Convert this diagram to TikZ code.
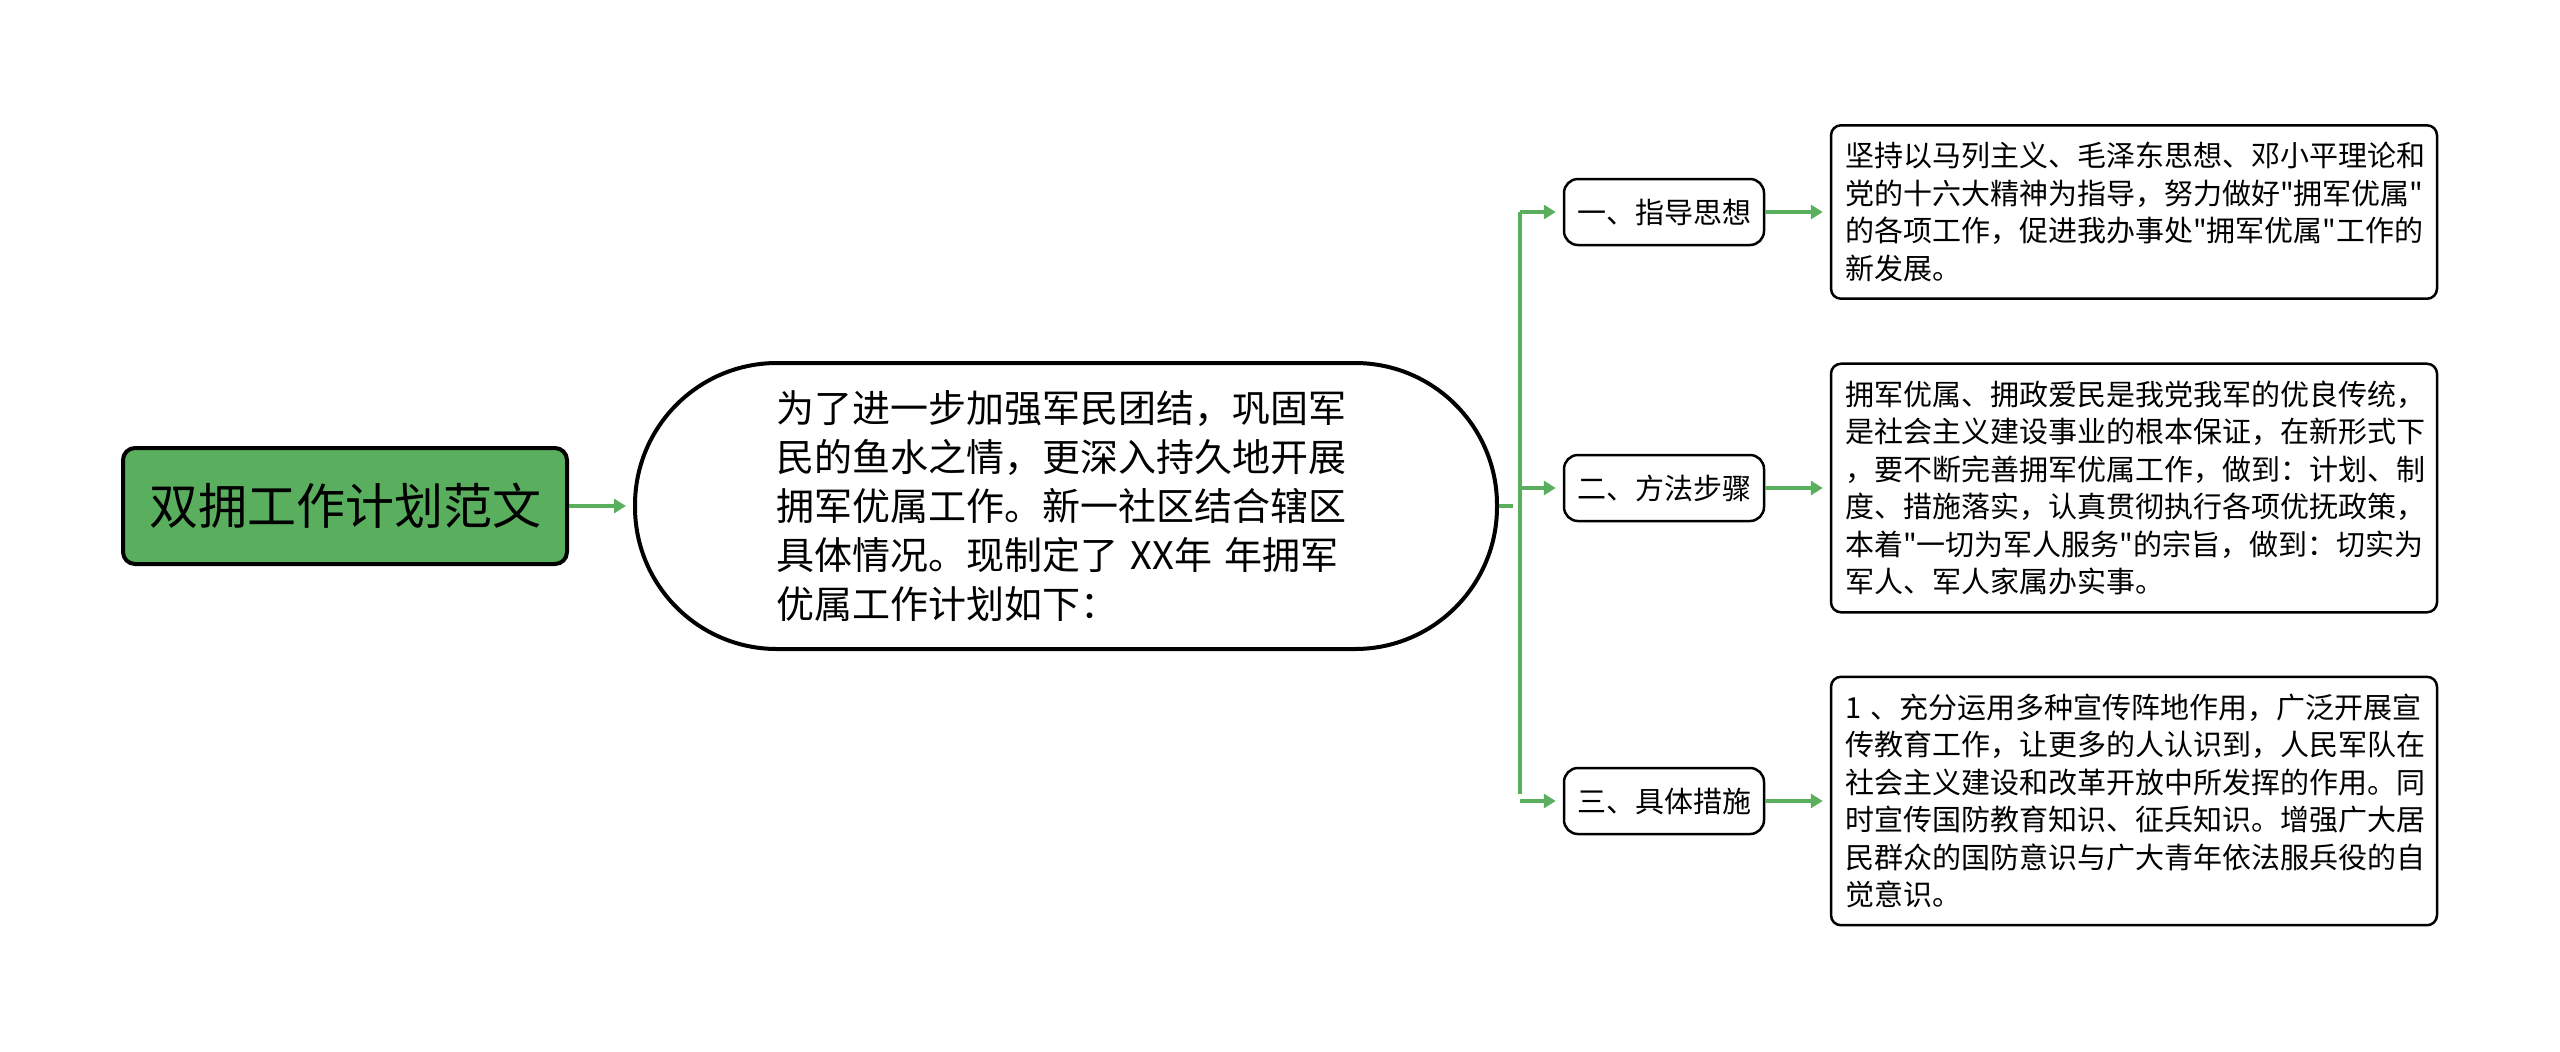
\documentclass[tikz,border=0pt]{standalone}
\usepackage{fontspec}
\setmainfont{Noto Sans CJK SC}[Ligatures=TeXOff]
\usetikzlibrary{arrows.meta}
\definecolor{linkgreen}{HTML}{5AAF5E}

\begin{document}
\begin{tikzpicture}[x=0.5pt,y=-0.5pt,
    link/.style={draw=linkgreen,line width=1.75pt,-{Triangle[length=6pt,width=7pt]},shorten >=3.5pt},
    rootbox/.style={draw,line width=2pt,fill=linkgreen,rounded corners=6pt,minimum width=222pt,minimum height=58pt,font=\fontsize{24.5}{30}\selectfont},
    ovalbox/.style={draw,line width=2pt,rounded corners=71pt,minimum width=431pt,minimum height=143pt,text width=290pt,align=left,font=\fontsize{19}{24.5}\selectfont},
    branchbox/.style={draw,line width=1.25pt,rounded corners=7pt,minimum width=100pt,minimum height=33pt,font=\fontsize{14.5}{18.75}\selectfont},
    detailbox/.style={draw,line width=1.25pt,rounded corners=5pt,inner xsep=7pt,inner ysep=8.5pt,text width=289pt,align=left,font=\fontsize{14.5}{18.75}\selectfont}]
    \fill[white] (0,0) rectangle (2560,1051);
    \useasboundingbox (0,0) rectangle (2560,1051);
    % root and summary
    \node[rootbox] (root) at (345,506) {双拥工作计划范文};
    \node[ovalbox] (intro) at (1066,506) {为了进一步加强军民团结，巩固军\\民的鱼水之情，更深入持久地开展\\拥军优属工作。新一社区结合辖区\\具体情况。现制定了~XX年~年拥军\\优属工作计划如下：};
    \draw[link] (root) -- (intro);
    % branches
    \coordinate (trunk) at (1520,506);
    \node[branchbox] (b1) at (1664,212) {一、指导思想};
    \node[branchbox] (b2) at (1664,488) {二、方法步骤};
    \node[branchbox] (b3) at (1664,801) {三、具体措施};
    % details
    \node[detailbox] (d1) at (2134,212) {坚持以马列主义、毛泽东思想、邓小平理论和\\党的十六大精神为指导，努力做好"拥军优属"\\的各项工作，促进我办事处"拥军优属"工作的\\新发展。};
    \node[detailbox] (d2) at (2134,488) {拥军优属、拥政爱民是我党我军的优良传统，\\是社会主义建设事业的根本保证，在新形式下\\，要不断完善拥军优属工作，做到：计划、制\\度、措施落实，认真贯彻执行各项优抚政策，\\本着"一切为军人服务"的宗旨，做到：切实为\\军人、军人家属办实事。};
    \node[detailbox] (d3) at (2134,801) {1 、充分运用多种宣传阵地作用，广泛开展宣\\传教育工作，让更多的人认识到，人民军队在\\社会主义建设和改革开放中所发挥的作用。同\\时宣传国防教育知识、征兵知识。增强广大居\\民群众的国防意识与广大青年依法服兵役的自\\觉意识。};
    % connectors
    \draw[link,-] (intro.east) -- (trunk);
    \draw[link,-] (trunk |- b1) -- (trunk |- b3);
    \foreach \i in {1,2,3} {
        \draw[link] (trunk |- b\i) -- (b\i);
        \draw[link] (b\i) -- (d\i);
    }
\end{tikzpicture}
\end{document}
